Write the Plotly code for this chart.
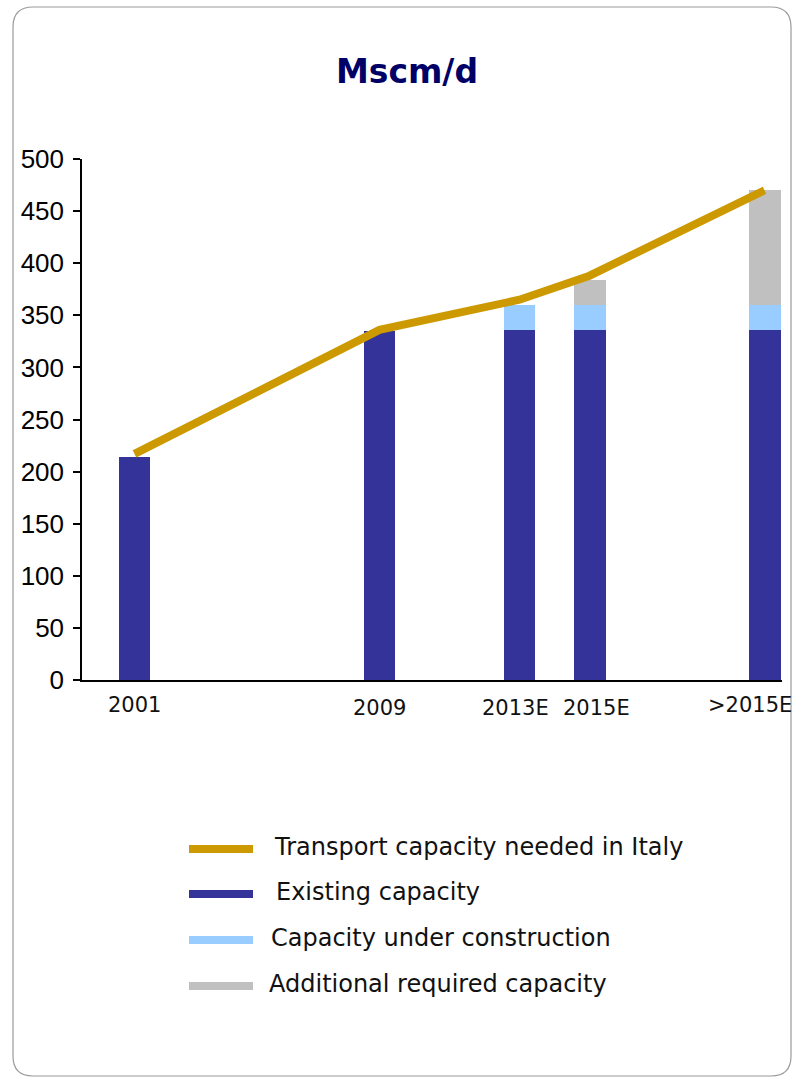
import plotly.graph_objects as go

# ---- data ----
categories = ["2001", "2009", "2013E", "2015E", ">2015E"]
existing_capacity = [214, 335, 336, 336, 336]
under_construction = [0, 0, 24, 24, 24]
additional_required = [0, 0, 0, 24, 110]
transport_needed = [217, 336, 365, 388, 470]
y_ticks = [0, 50, 100, 150, 200, 250, 300, 350, 400, 450, 500]

series_names = ["Transport capacity needed in Italy", "Existing capacity",
                "Capacity under construction", "Additional required capacity"]

# ---- layout constants (pixels / positions) ----
W, H = 794, 1078
L, R, T, B = 82, 12, 159, 398
slots = [1.5, 8.5, 12.5, 14.5, 19.5]   # uneven horizontal spacing of the categories
X_RANGE = [0, 20]

C_LINE = "#CC9900"
C_EXIST = "#333399"
C_UC = "#99CCFF"
C_ADD = "#C0C0C0"

PW = W - L - R
PH = H - T - B


def px(xp):
    return (xp - L) / PW


def py(yp):
    return (H - B - yp) / PH


fig = go.Figure()
bw = 0.914
fig.add_trace(go.Bar(x=slots, y=existing_capacity, name=series_names[1],
                     marker=dict(color=C_EXIST, line=dict(width=0)), width=bw))
fig.add_trace(go.Bar(x=slots, y=under_construction, name=series_names[2],
                     marker=dict(color=C_UC, line=dict(width=0)), width=bw))
fig.add_trace(go.Bar(x=slots, y=additional_required, name=series_names[3],
                     marker=dict(color=C_ADD, line=dict(width=0)), width=bw))
fig.add_trace(go.Scatter(x=slots, y=transport_needed, name=series_names[0],
                         mode="lines", line=dict(color=C_LINE, width=8)))

shapes = []
# rounded border
x0, x1, y0, y1, r = 13, 791, 7, 1076, 20
pts = [
    f"M{px(x0+r)},{py(y0)}", f"L{px(x1-r)},{py(y0)}",
    f"Q{px(x1)},{py(y0)} {px(x1)},{py(y0+r)}",
    f"L{px(x1)},{py(y1-r)}",
    f"Q{px(x1)},{py(y1)} {px(x1-r)},{py(y1)}",
    f"L{px(x0+r)},{py(y1)}",
    f"Q{px(x0)},{py(y1)} {px(x0)},{py(y1-r)}",
    f"L{px(x0)},{py(y0+r)}",
    f"Q{px(x0)},{py(y0)} {px(x0+r)},{py(y0)}", "Z",
]
shapes.append(dict(type="path", xref="paper", yref="paper", path=" ".join(pts),
                   line=dict(color="#9A9A9A", width=1.2), layer="below"))

annotations = []
# x category labels (nudged apart / inside the frame like the original)
label_shift = [0, 0, -4, 7, -15]
label_dy = [0, 3, 3, 3, 0]
XFONT = dict(family="DejaVu Sans", size=21, color="#111")
for cat, s, sh, dy in zip(categories, slots, label_shift, label_dy):
    annotations.append(dict(xref="x", yref="paper", x=s, y=py(705 + dy),
                            xanchor="center", yanchor="middle", showarrow=False,
                            xshift=sh, text=cat, font=XFONT))

# manual legend
legend_colors = [C_LINE, C_EXIST, C_UC, C_ADD]
legend_y = [849, 894, 940, 986]
text_x = [272, 274, 269, 267]
for name, col, ly, tx in zip(series_names, legend_colors, legend_y, text_x):
    shapes.append(dict(type="line", xref="paper", yref="paper",
                       x0=px(189), x1=px(253), y0=py(ly), y1=py(ly),
                       line=dict(color=col, width=8)))
    annotations.append(dict(xref="paper", yref="paper", x=px(tx), y=py(ly - 2),
                            xanchor="left", yanchor="middle", showarrow=False,
                            text=name, font=dict(family="DejaVu Sans", size=24, color="#111")))

fig.update_layout(
    width=W, height=H,
    margin=dict(l=L, r=R, t=T, b=B),
    paper_bgcolor="white", plot_bgcolor="white",
    barmode="stack", showlegend=False,
    title=dict(text="<b>Mscm/d</b>", x=407 / W, xref="container", xanchor="center",
               y=1 - 71 / H, yref="container", yanchor="middle",
               font=dict(family="DejaVu Sans", size=33, color="#000066")),
    xaxis=dict(range=X_RANGE, tickvals=slots, showticklabels=False,
               showline=True, linecolor="black", linewidth=1.5, ticks="",
               showgrid=False, zeroline=False),
    yaxis=dict(range=[0, 500], tickvals=y_ticks, showline=True, linecolor="black",
               linewidth=1.5, ticks="outside", ticklen=7, tickcolor="black", tickwidth=1.5,
               showgrid=False, zeroline=False, ticklabelstandoff=4,
               tickfont=dict(family="Liberation Sans, Arial", size=26, color="black")),
    shapes=shapes, annotations=annotations,
)

fig.write_html("out.html")
